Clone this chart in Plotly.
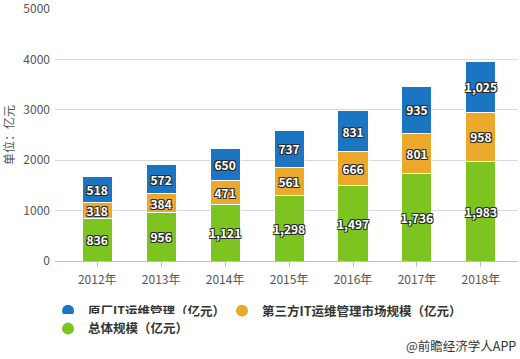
import plotly.graph_objects as go

years = ["2012年", "2013年", "2014年", "2015年", "2016年", "2017年", "2018年"]
total_scale = [836, 956, 1121, 1298, 1497, 1736, 1983]
third_party = [318, 384, 471, 561, 666, 801, 958]
oem_it = [518, 572, 650, 737, 831, 935, 1025]
y_ticks = [0, 1000, 2000, 3000, 4000, 5000]

name_oem = "原厂IT运维管理（亿元）"
name_third = "第三方IT运维管理市场规模（亿元）"
name_total = "总体规模（亿元）"

c_blue = "#1B75C3"
c_orange = "#EBA82B"
c_green = "#7DC420"

FONT = "Noto Sans CJK SC, Microsoft YaHei, sans-serif"
shadow = "-1px -1px 0 #2a2a2a, 1px -1px 0 #2a2a2a, -1px 1px 0 #2a2a2a, 1px 1px 0 #2a2a2a"

fig = go.Figure()
for vals, col in [(total_scale, c_green), (third_party, c_orange), (oem_it, c_blue)]:
    fig.add_trace(go.Bar(
        x=years, y=vals, marker=dict(color=col, line=dict(color="white", width=1)),
        width=0.47, showlegend=False,
        texttemplate="%{y:,}", textposition="inside", insidetextanchor="middle",
        constraintext="none", textangle=0,
        textfont=dict(color="white", size=12, family=FONT, weight="bold", shadow=shadow),
        hoverinfo="skip",
    ))

# legend entries with circle markers
for nm, col, lg in [(name_oem, c_blue, "legend"), (name_third, c_orange, "legend3"), (name_total, c_green, "legend2")]:
    fig.add_trace(go.Scatter(
        x=[None], y=[None], mode="markers", name=nm, legend=lg,
        marker=dict(color=col, size=13, symbol="circle"),
    ))

legend_font = dict(size=12.5, color="#333", family=FONT, weight="bold")

fig.update_layout(
    width=520, height=359,
    barmode="stack",
    plot_bgcolor="white", paper_bgcolor="white",
    margin=dict(l=55, r=2, t=9, b=98),
    font=dict(family=FONT, color="#555", size=12),
    xaxis=dict(
        range=[-0.66, 6.58], showgrid=False, showline=True, linecolor="#bfbfbf", linewidth=1,
        ticks="outside", ticklen=5, tickcolor="#bfbfbf", tickfont=dict(size=12, color="#555"),
        ticklabelstandoff=3,
    ),
    yaxis=dict(
        range=[0, 5000], tickvals=y_ticks, ticklabeloverflow="allow",
        showgrid=True, gridcolor="#d9d9d9", gridwidth=1,
        zeroline=False, tickformat="d", tickfont=dict(size=12, color="#555"), ticklabelstandoff=4,
        title=dict(text="单位：亿元", font=dict(size=12, color="#555"), standoff=16),
        automargin=False,
    ),
    legend=dict(
        orientation="h", x=-0.015, xanchor="left", y=-0.1389, yanchor="top",
        font=legend_font, itemsizing="constant",
    ),
    legend3=dict(
        orientation="h", x=0.3607, xanchor="left", y=-0.1389, yanchor="top",
        font=legend_font, itemsizing="constant",
    ),
    legend2=dict(
        orientation="h", x=-0.015, xanchor="left", y=-0.2103, yanchor="top",
        font=legend_font, itemsizing="constant",
    ),
    showlegend=True,
)

fig.add_annotation(
    x=1.0, xref="paper", xanchor="right", y=-0.3373, yref="paper",
    yanchor="middle", showarrow=False,
    text="@前瞻经济学人APP", font=dict(size=12.5, color="#333", family=FONT),
)

fig.write_html("out.html", config={"displayModeBar": False},
               post_script="document.body.style.margin='0';")
